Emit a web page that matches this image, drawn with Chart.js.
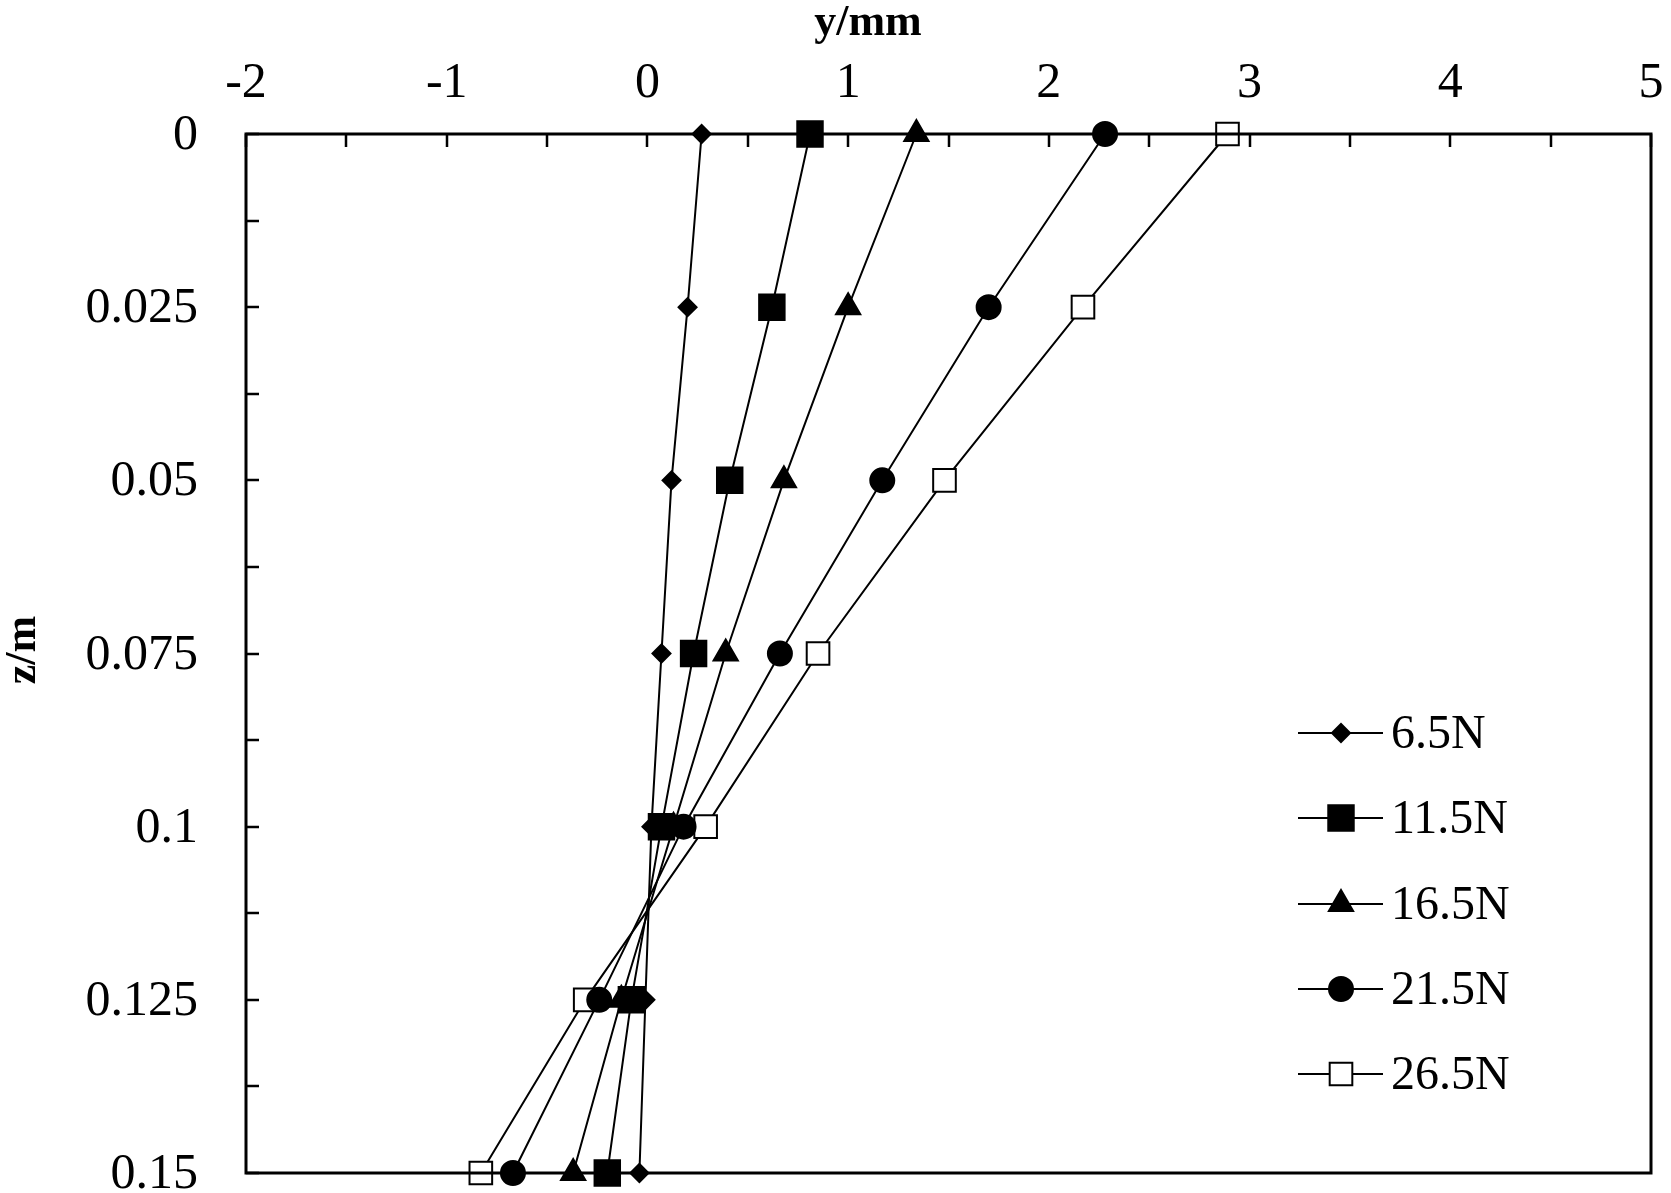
<!DOCTYPE html>
<html>
<head>
<meta charset="utf-8">
<script src="https://cdn.jsdelivr.net/npm/chart.js@4.4.1/dist/chart.umd.min.js"></script>
<style>
  html, body { margin: 0; padding: 0; background: #fff; }
  #wrap { width: 1671px; height: 1193px; }
</style>
</head>
<body>
<div id="wrap"><canvas id="chart" width="1671" height="1193"></canvas></div>
<script>
// ── data ──
const zValues = [0, 0.025, 0.05, 0.075, 0.1, 0.125, 0.15];
const y65  = [0.27, 0.20, 0.12, 0.07, 0.02, -0.01, -0.04];
const y115 = [0.81, 0.62, 0.41, 0.23, 0.07, -0.08, -0.20];
const y165 = [1.34, 1.00, 0.68, 0.39, 0.13, -0.13, -0.37];
const y215 = [2.28, 1.70, 1.17, 0.66, 0.18, -0.24, -0.67];
const y265 = [2.89, 2.17, 1.48, 0.85, 0.29, -0.31, -0.83];
const seriesNames = ['6.5N', '11.5N', '16.5N', '21.5N', '26.5N'];

// tick positions and labels
const xTickValues = [-2, -1.5, -1, -0.5, 0, 0.5, 1, 1.5, 2, 2.5, 3, 3.5, 4, 4.5, 5];
const xTickLabels = ['-2', '', '-1', '', '0', '', '1', '', '2', '', '3', '', '4', '', '5'];
const yTickValues = [0, 0.0125, 0.025, 0.0375, 0.05, 0.0625, 0.075, 0.0875, 0.1, 0.1125, 0.125, 0.1375, 0.15];
const yTickLabels = ['0', '', '0.025', '', '0.05', '', '0.075', '', '0.1', '', '0.125', '', '0.15'];

const FONT = "'Liberation Serif', 'Times New Roman', serif";

const styles = [
  { pointStyle: 'rectRot',  radius: 9,  fill: '#000' },
  { pointStyle: 'rect',     radius: 18, fill: '#000' },
  { pointStyle: 'triangle', radius: 14, fill: '#000' },
  { pointStyle: 'circle',   radius: 12, fill: '#000' },
  { pointStyle: 'rect',     radius: 16, fill: '#fff' },
];

const allSeries = [y65, y115, y165, y215, y265];
const datasets = allSeries.map((vals, i) => ({
  label: seriesNames[i],
  data: zValues.map((z, k) => ({ x: vals[k], y: z })),
  showLine: true,
  borderColor: '#000',
  borderWidth: 2,
  pointStyle: styles[i].pointStyle,
  pointRadius: styles[i].radius,
  pointBackgroundColor: styles[i].fill,
  pointBorderColor: '#000',
  pointBorderWidth: 2,
  clip: false,
}));

// box, inward ticks, tick labels, axis titles and legend
const decorPlugin = {
  id: 'decor',
  afterDraw(chart) {
    const ctx = chart.ctx;
    const a = chart.chartArea;
    const xs = chart.scales.x, ys = chart.scales.y;
    ctx.save();
    ctx.strokeStyle = '#000';
    ctx.lineWidth = 3;
    ctx.strokeRect(a.left, a.top, a.right - a.left, a.bottom - a.top);

    ctx.lineWidth = 2.5;
    ctx.beginPath();
    xTickValues.forEach(v => {
      const px = Math.round(xs.getPixelForValue(v));
      ctx.moveTo(px, a.top);
      ctx.lineTo(px, a.top + 13);
    });
    yTickValues.forEach(v => {
      const py = Math.round(ys.getPixelForValue(v));
      ctx.moveTo(a.left, py);
      ctx.lineTo(a.left + 13, py);
    });
    ctx.stroke();

    // tick labels
    ctx.fillStyle = '#000';
    ctx.font = '50px ' + FONT;
    ctx.textBaseline = 'middle';
    ctx.textAlign = 'center';
    xTickValues.forEach((v, i) => {
      if (xTickLabels[i]) ctx.fillText(xTickLabels[i], xs.getPixelForValue(v), 84);
    });
    ctx.textAlign = 'right';
    yTickValues.forEach((v, i) => {
      if (yTickLabels[i]) ctx.fillText(yTickLabels[i], 198, ys.getPixelForValue(v) + 2);
    });

    // axis titles
    ctx.font = 'bold 44px ' + FONT;
    ctx.textAlign = 'center';
    ctx.fillText('y/mm', 868, 24);
    ctx.save();
    ctx.translate(24, 650);
    ctx.rotate(-Math.PI / 2);
    ctx.fillText('z/m', 0, 0);
    ctx.restore();

    // legend
    const legX1 = 1298, legX2 = 1383, legMid = 1341, legText = 1391;
    const legY = [733, 818, 904, 989, 1074];
    ctx.font = '48px ' + FONT;
    ctx.textAlign = 'left';
    seriesNames.forEach((name, i) => {
      const y = legY[i];
      ctx.strokeStyle = '#000';
      ctx.lineWidth = 2;
      ctx.beginPath();
      ctx.moveTo(legX1, y);
      ctx.lineTo(legX2, y);
      ctx.stroke();
      ctx.fillStyle = styles[i].fill;
      Chart.helpers.drawPoint(ctx, { pointStyle: styles[i].pointStyle, radius: styles[i].radius, rotation: 0, borderWidth: 2 }, legMid, y);
      ctx.fillStyle = '#000';
      ctx.fillText(name, legText, y + 2);
    });
    ctx.restore();
  }
};

new Chart(document.getElementById('chart'), {
  type: 'scatter',
  data: { datasets },
  options: {
    responsive: false,
    animation: false,
    devicePixelRatio: 1,
    layout: { padding: { left: 0, right: 19, top: 0, bottom: 19 } },
    plugins: { legend: { display: false }, tooltip: { enabled: false } },
    scales: {
      x: {
        type: 'linear',
        position: 'top',
        min: -2,
        max: 5,
        grid: { display: false, drawTicks: false },
        border: { display: false },
        afterBuildTicks: s => { s.ticks = xTickValues.map(v => ({ value: v })); },
        afterFit: s => { s.height = 134; },
        ticks: { display: false },
      },
      y: {
        type: 'linear',
        reverse: true,
        min: 0,
        max: 0.15,
        grid: { display: false, drawTicks: false },
        border: { display: false },
        afterBuildTicks: s => { s.ticks = yTickValues.map(v => ({ value: v })); },
        afterFit: s => { s.width = 246; },
        ticks: { display: false },
      },
    },
  },
  plugins: [decorPlugin],
});
</script>
</body>
</html>
